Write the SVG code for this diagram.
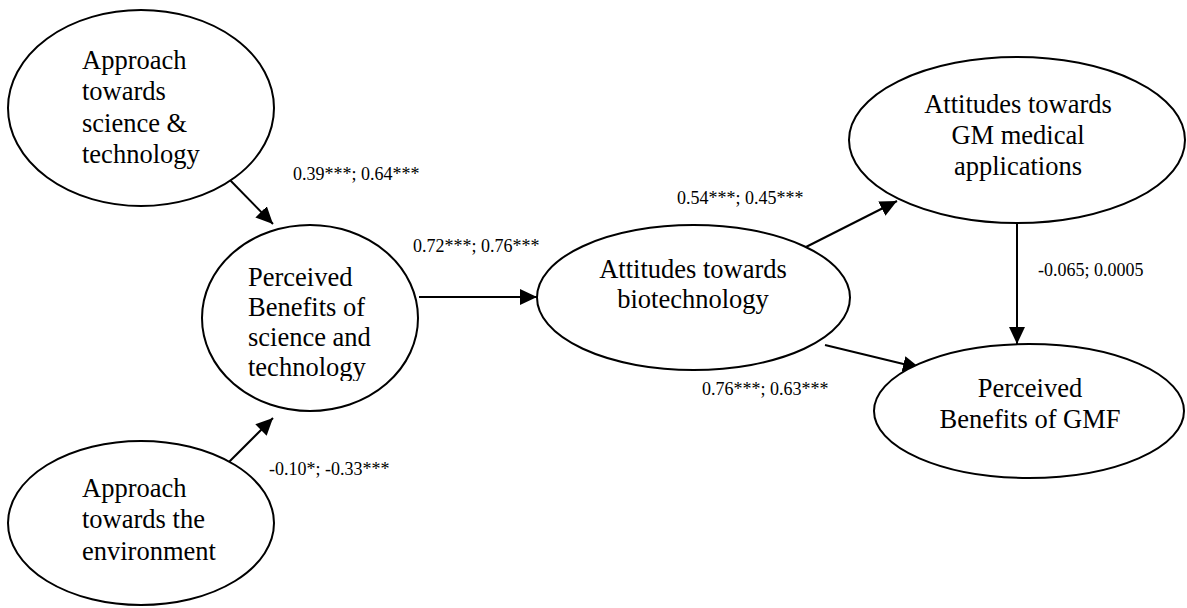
<svg xmlns="http://www.w3.org/2000/svg" width="1187" height="608" viewBox="0 0 1187 608">
<style>
.node ellipse{fill:#fff;stroke:#000;stroke-width:2}
.node text{font-family:"Liberation Serif","Times New Roman",serif;font-size:26.5px;fill:#000}
.node text.c{text-anchor:middle}
#connectors text{font-family:"Liberation Serif","Times New Roman",serif;font-size:18px;fill:#000}
.edge{stroke:#000;stroke-width:2;fill:none;marker-end:url(#ah)}
</style>
<defs>
<marker id="ah" markerUnits="userSpaceOnUse" markerWidth="18" markerHeight="16" refX="17" refY="8" orient="auto">
<path d="M0,0 L17,8 L0,16 Z" fill="#000"/>
</marker>
<clipPath id="clipPB"><rect x="200" y="220" width="230" height="161"/></clipPath>
</defs>
<rect width="1187" height="608" fill="#fff"/>
<g id="connectors">
<line class="edge" x1="228" y1="178" x2="273" y2="224"/>
<line class="edge" x1="226" y1="465" x2="273" y2="418"/>
<line class="edge" x1="419" y1="297" x2="537" y2="297"/>
<line class="edge" x1="802" y1="249" x2="897" y2="201"/>
<line class="edge" x1="825" y1="345" x2="920" y2="368"/>
<line class="edge" x1="1017" y1="223" x2="1017" y2="344"/>
<text x="293" y="180">0.39***; 0.64***</text>
<text x="413" y="252">0.72***; 0.76***</text>
<text x="269" y="475">-0.10*; -0.33***</text>
<text x="677" y="204">0.54***; 0.45***</text>
<text x="702" y="395">0.76***; 0.63***</text>
<text x="1038" y="276">-0.065; 0.0005</text>
</g>
<g id="n-approach-st" class="node">
<ellipse cx="141" cy="108" rx="133" ry="98"/>
<text x="82" y="69">Approach</text>
<text x="82" y="100">towards</text>
<text x="82" y="132">science &amp;</text>
<text x="82" y="163">technology</text>
</g>
<g id="n-perceived-st" class="node">
<ellipse cx="310" cy="318" rx="108" ry="93"/>
<g clip-path="url(#clipPB)">
<text x="248" y="286">Perceived</text>
<text x="248" y="316">Benefits of</text>
<text x="248" y="346">science and</text>
<text x="248" y="376">technology</text>
</g>
</g>
<g id="n-approach-env" class="node">
<ellipse cx="141" cy="523" rx="133" ry="82"/>
<text x="82" y="497">Approach</text>
<text x="82" y="528">towards the</text>
<text x="82" y="560">environment</text>
</g>
<g id="n-attitudes-bio" class="node">
<ellipse cx="693.5" cy="297.5" rx="156.5" ry="72.5"/>
<text class="c" x="693" y="278">Attitudes towards</text>
<text class="c" x="693" y="308">biotechnology</text>
</g>
<g id="n-attitudes-gm" class="node">
<ellipse cx="1017" cy="140" rx="168" ry="83"/>
<text class="c" x="1018" y="113">Attitudes towards</text>
<text class="c" x="1018" y="144">GM medical</text>
<text class="c" x="1018" y="175">applications</text>
</g>
<g id="n-perceived-gmf" class="node">
<ellipse cx="1029" cy="411" rx="155" ry="67"/>
<text class="c" x="1030" y="397">Perceived</text>
<text class="c" x="1030" y="428">Benefits of GMF</text>
</g>
</svg>
